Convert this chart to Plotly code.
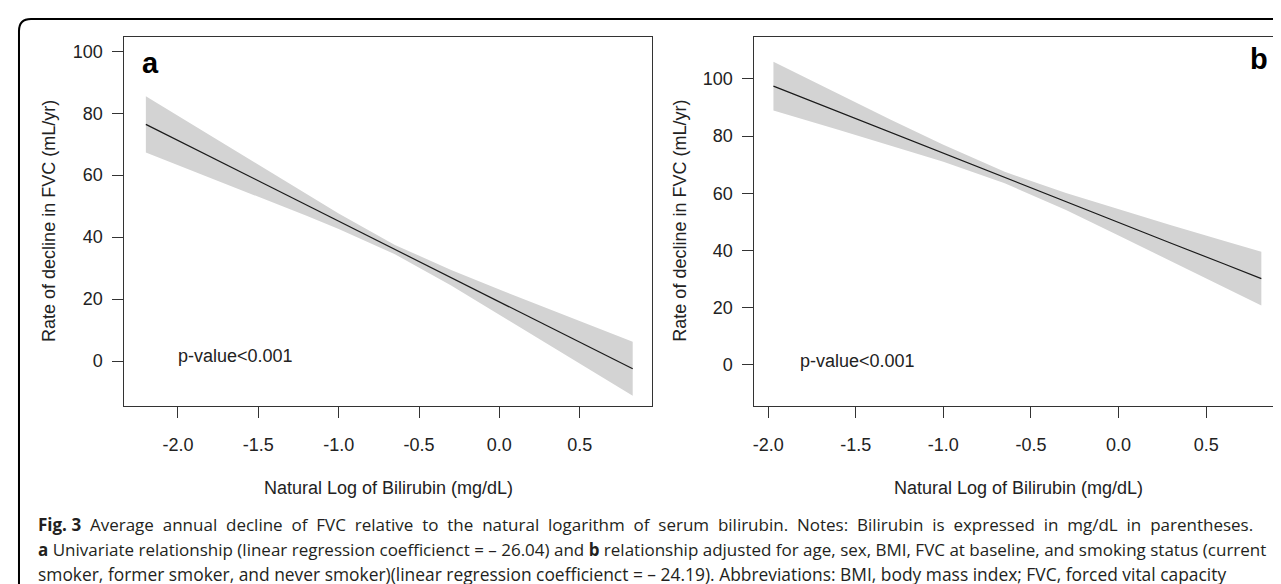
import plotly.graph_objects as go

W, H = 1281, 584

# ---- data ----
# Panel a: univariate
xa = [-2.2, -1.8, -1.5, -1.2, -1.0, -0.65, -0.3, 0.0, 0.3, 0.6, 0.83]
fit_a = [76.4, 66.0, 58.2, 50.4, 45.1, 36.0, 26.9, 19.1, 11.3, 3.5, -2.5]
lo_a = [67.3, 59.2, 53.0, 46.9, 42.6, 34.5, 24.4, 15.1, 5.6, -3.9, -11.2]
hi_a = [85.5, 72.8, 63.4, 53.9, 47.6, 37.5, 29.4, 23.1, 17.0, 10.9, 6.2]

# Panel b: adjusted
xb = [-1.97, -1.6, -1.3, -1.0, -0.65, -0.3, 0.0, 0.3, 0.6, 0.815]
fit_b = [97.5, 88.5, 81.2, 74.0, 65.5, 57.1, 49.8, 42.5, 35.3, 30.1]
lo_b = [89.0, 82.2, 76.7, 71.0, 63.5, 54.1, 45.2, 36.2, 27.2, 20.7]
hi_b = [106.0, 94.8, 85.7, 77.0, 67.5, 60.1, 54.4, 48.8, 43.4, 39.5]

x_ticks = [-2.0, -1.5, -1.0, -0.5, 0.0, 0.5]
x_tick_labels = ["-2.0", "-1.5", "-1.0", "-0.5", "0.0", "0.5"]
y_ticks = [0, 20, 40, 60, 80, 100]
y_tick_labels = ["0", "20", "40", "60", "80", "100"]

y_title = "Rate of decline in FVC (mL/yr)"
x_title = "Natural Log of Bilirubin (mg/dL)"
p_text = "p-value<0.001"
caption_lead = "<b>Fig. 3</b>"
caption = [
    "Average annual decline of FVC relative to the natural logarithm of serum bilirubin. Notes: Bilirubin is expressed in mg/dL in parentheses.",
    "<b>a</b> Univariate relationship (linear regression coefficienct = \u2013 26.04) and <b>b</b> relationship adjusted for age, sex, BMI, FVC at baseline, and smoking status (current",
    "smoker, former smoker, and never smoker)(linear regression coefficienct = \u2013 24.19). Abbreviations: BMI, body mass index; FVC, forced vital capacity",
]

def px(x):
    return x / W

def py(y):
    return (H - y) / H

FONT = "Arial, 'Liberation Sans', Helvetica, sans-serif"
CAP_FONT = "'Open Sans', 'Noto Sans', sans-serif"
BAND = "#d3d3d3"
LINE = "#1a1a1a"
AX = "#333333"

fig = go.Figure()

for xs, lo, hi, fit, xr, yr in [
    (xa, lo_a, hi_a, fit_a, "x", "y"),
    (xb, lo_b, hi_b, fit_b, "x2", "y2"),
]:
    fig.add_trace(go.Scatter(
        x=xs + xs[::-1], y=hi + lo[::-1], fill="toself", fillcolor=BAND,
        line=dict(width=0, color=BAND), mode="lines", hoverinfo="skip",
        showlegend=False, xaxis=xr, yaxis=yr))
    fig.add_trace(go.Scatter(
        x=xs, y=fit, mode="lines", line=dict(color=LINE, width=1.2),
        showlegend=False, xaxis=xr, yaxis=yr))

common_x = dict(
    tickvals=x_ticks, ticktext=x_tick_labels, ticks="outside", ticklen=11,
    tickcolor=AX, tickwidth=1, showline=True, linecolor=AX, linewidth=1,
    mirror=True, showgrid=False, zeroline=False,
    tickfont=dict(family=FONT, size=18, color="#222"), ticklabelstandoff=11,
)
common_y = dict(
    tickvals=y_ticks, ticktext=y_tick_labels, ticks="outside", ticklen=11,
    tickcolor=AX, tickwidth=1, showline=True, linecolor=AX, linewidth=1,
    mirror=True, showgrid=False, zeroline=False,
    tickfont=dict(family=FONT, size=18, color="#222"), ticklabelstandoff=6,
)

fig.update_layout(
    width=W, height=H, margin=dict(l=0, r=0, t=0, b=0),
    paper_bgcolor="white", plot_bgcolor="white",
    xaxis=dict(domain=[px(114.5), px(643)], range=[-2.334, 0.95], anchor="y", **common_x),
    yaxis=dict(domain=[py(398), py(29)], range=[-14.5, 104.6], anchor="x", **common_y),
    xaxis2=dict(domain=[px(745.5), px(1274)], range=[-2.079, 0.933], anchor="y2", **common_x),
    yaxis2=dict(domain=[py(398), py(29)], range=[-14.5, 114.7], anchor="x2", **common_y),
)

ann = []
# panel letters
ann.append(dict(text="<b>a</b>", xref="x domain", yref="y domain", x=0.03, y=0.93,
                xanchor="left", yanchor="middle", showarrow=False,
                font=dict(family=FONT, size=29, color="black")))
ann.append(dict(text="<b>b</b>", xref="x2 domain", yref="y2 domain", x=0.977, y=0.94,
                xanchor="right", yanchor="middle", showarrow=False,
                font=dict(family=FONT, size=29, color="black")))
# p-values
ann.append(dict(text=p_text, xref="x", yref="y", x=-1.645, y=1.6, showarrow=False,
                xanchor="center", yanchor="middle",
                font=dict(family=FONT, size=18, color="#222")))
ann.append(dict(text=p_text, xref="x2", yref="y2", x=-1.49, y=1.2, showarrow=False,
                xanchor="center", yanchor="middle",
                font=dict(family=FONT, size=18, color="#222")))
# axis titles
for xc in (39, 670.7):
    ann.append(dict(text=y_title, xref="paper", yref="paper", x=px(xc), y=py(213),
                    xanchor="center", yanchor="middle",
                    textangle=-90, showarrow=False,
                    font=dict(family=FONT, size=18, color="#222")))
for xc in (378.7, 1009.7):
    ann.append(dict(text=x_title, xref="paper", yref="paper", x=px(xc), y=py(480),
                    xanchor="center", yanchor="middle",
                    showarrow=False, font=dict(family=FONT, size=18, color="#222")))
# caption (first line spread out to mimic the justified setting)
cap_lines = [caption_lead + " \u00a0" + caption[0].replace(" ", " \u00a0"),
             caption[1], caption[2]]
for line, yc, fs in zip(cap_lines, (516.5, 541.5, 565.5), (17, 17, 17.4)):
    ann.append(dict(text=line, xref="paper", yref="paper", x=px(26), y=py(yc),
                    xanchor="left", yanchor="middle", showarrow=False,
                    font=dict(family=CAP_FONT, size=fs, color="#231f20")))
fig.update_layout(annotations=ann)

# outer rounded frame (opens off the right and bottom of the image)
r = 12
x0, y0 = 9, 11
path = (f"M {px(x0)},{py(H + 20)} L {px(x0)},{py(y0 + r)} "
        f"Q {px(x0)},{py(y0)} {px(x0 + r)},{py(y0)} L {px(W + 20)},{py(y0)}")
fig.add_shape(type="path", path=path, xref="paper", yref="paper",
              line=dict(color="black", width=2))

fig.write_html("out.html")
